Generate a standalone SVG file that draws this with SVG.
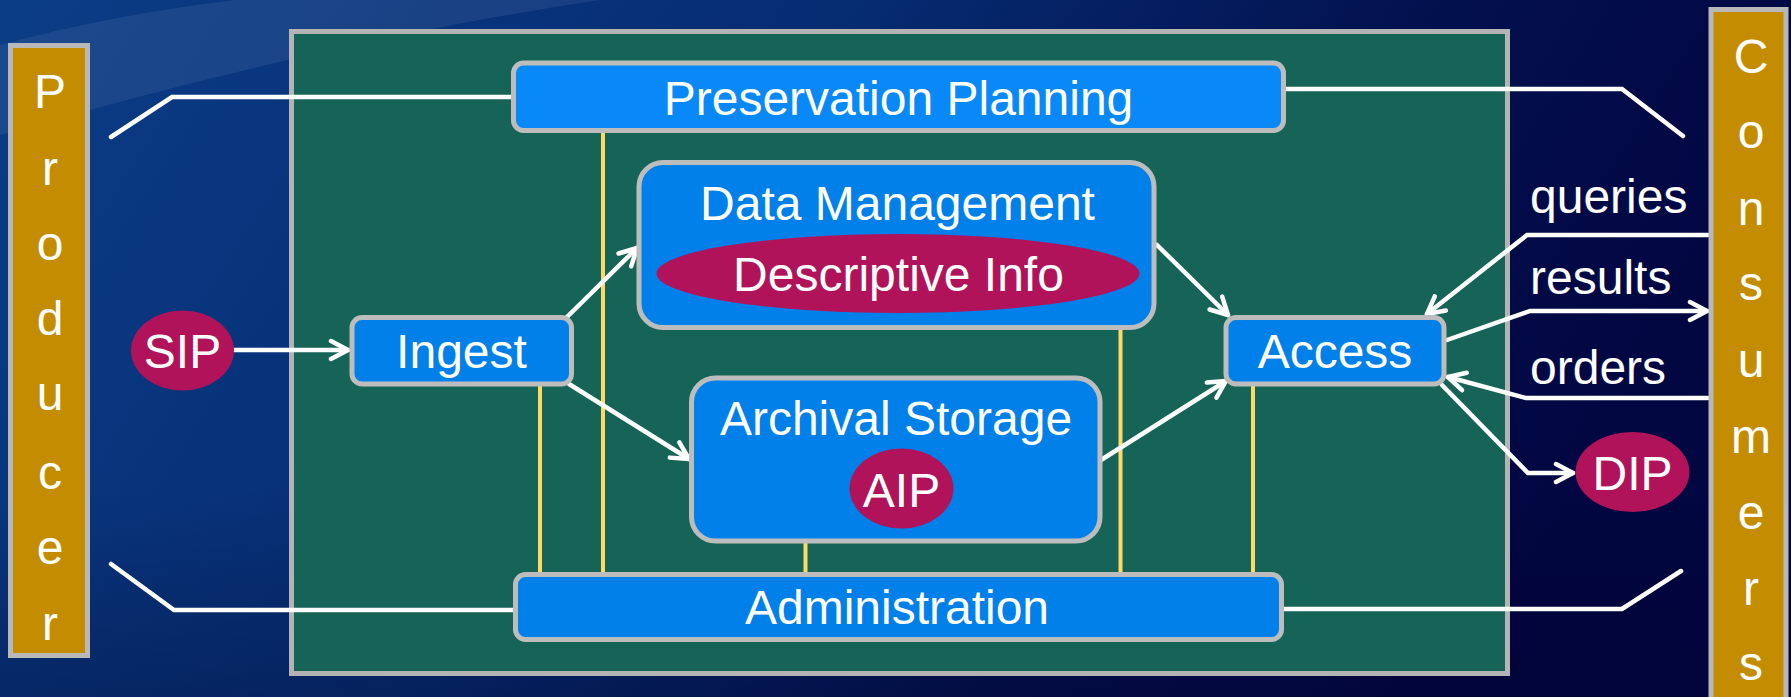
<svg xmlns="http://www.w3.org/2000/svg" width="1791" height="697" viewBox="0 0 1791 697">
  <defs>
    <linearGradient id="bg" x1="0" y1="0" x2="1" y2="0.25">
      <stop offset="0" stop-color="#0B3D86"/>
      <stop offset="0.45" stop-color="#062C72"/>
      <stop offset="0.75" stop-color="#03114F"/>
      <stop offset="1" stop-color="#020641"/>
    </linearGradient>
    <linearGradient id="bgv" x1="0" y1="0" x2="0" y2="1">
      <stop offset="0" stop-color="#000020" stop-opacity="0"/>
      <stop offset="0.7" stop-color="#000020" stop-opacity="0"/>
      <stop offset="1" stop-color="#000020" stop-opacity="0.25"/>
    </linearGradient>
    <marker id="arr" viewBox="0 0 24 24" refX="20" refY="12" markerWidth="24" markerHeight="24" markerUnits="userSpaceOnUse" orient="auto">
      <path d="M3,3 L20,12 L3,21" fill="none" stroke="#FFFFFF" stroke-width="4.5" stroke-linecap="round" stroke-linejoin="round"/>
    </marker>
  </defs>
  <style>
    .lbl { font-family: "Liberation Sans", Arial, sans-serif; font-size: 48px; fill: #FFFFFF; }
    .mid { text-anchor: middle; }
    .side { fill: #C48C00; stroke: #B8B8B8; stroke-width: 5; }
    .box { fill: #0080E8; stroke: #BDBDBD; stroke-width: 5; }
    .pkg { fill: #B0135A; }
    .conn { fill: none; stroke: #FFFFFF; stroke-width: 4.5; stroke-linecap: round; stroke-linejoin: miter; }
    .arrow { marker-end: url(#arr); }
    .ylink { stroke: #FFD966; stroke-width: 4; }
  </style>

  <rect x="0" y="0" width="1791" height="697" fill="url(#bg)"/>
  <rect x="0" y="0" width="1791" height="697" fill="url(#bgv)"/>
  <path d="M0,45 Q110,15 235,0 L600,0 Q330,40 0,135 Z" fill="#FFFFFF" opacity="0.07"/>

  <g id="oais">
    <rect x="291.5" y="31.5" width="1216" height="642" fill="#166457" stroke="#B4B4B4" stroke-width="5"/>
  </g>

  <g id="links">
    <line class="ylink" x1="540" y1="384" x2="540" y2="574"/>
    <line class="ylink" x1="603" y1="130" x2="603" y2="574"/>
    <line class="ylink" x1="805.5" y1="541" x2="805.5" y2="574"/>
    <line class="ylink" x1="1120.5" y1="328" x2="1120.5" y2="574"/>
    <line class="ylink" x1="1253" y1="384" x2="1253" y2="574"/>
  </g>

  <g id="connectors">
    <path class="conn arrow" d="M234,350 L348,350"/>
    <path class="conn arrow" d="M567,317 L637,248"/>
    <path class="conn arrow" d="M569,384 L689,459"/>
    <path class="conn arrow" d="M1157,245 L1228,315"/>
    <path class="conn arrow" d="M1101,460 L1226,381"/>
    <path class="conn arrow" d="M1708,235 L1527,235 L1427,314"/>
    <path class="conn arrow" d="M1447,340 L1530,311 L1707,311"/>
    <path class="conn arrow" d="M1708,398 L1526,398 L1448,377"/>
    <path class="conn arrow" d="M1442,385 L1528,473 L1573,473"/>
    <path class="conn" d="M111,137 L172,97 L514,97"/>
    <path class="conn" d="M1283,89 L1622,89 L1683,136"/>
    <path class="conn" d="M111,564 L174,610 L516,610"/>
    <path class="conn" d="M1283,609 L1622,609 L1681,571"/>
  </g>

  <g id="producer">
    <rect class="side" x="10.5" y="45.5" width="77" height="610"/>
    <text class="lbl mid" x="50" y="108">P</text>
    <text class="lbl mid" x="50" y="185">r</text>
    <text class="lbl mid" x="50" y="260">o</text>
    <text class="lbl mid" x="50" y="335">d</text>
    <text class="lbl mid" x="50" y="410">u</text>
    <text class="lbl mid" x="50" y="489">c</text>
    <text class="lbl mid" x="50" y="564">e</text>
    <text class="lbl mid" x="50" y="640">r</text>
  </g>

  <g id="consumers">
    <rect class="side" x="1711" y="9.5" width="75" height="700"/>
    <text class="lbl mid" x="1751" y="73">C</text>
    <text class="lbl mid" x="1751" y="148">o</text>
    <text class="lbl mid" x="1751" y="225">n</text>
    <text class="lbl mid" x="1751" y="300">s</text>
    <text class="lbl mid" x="1751" y="377">u</text>
    <text class="lbl mid" x="1751" y="453">m</text>
    <text class="lbl mid" x="1751" y="529">e</text>
    <text class="lbl mid" x="1751" y="605">r</text>
    <text class="lbl mid" x="1751" y="680">s</text>
  </g>

  <g id="preservation-planning">
    <rect class="box" x="513.5" y="63" width="770" height="67.5" rx="10" style="fill:#0889F7"/>
    <text class="lbl mid" x="898.5" y="115">Preservation Planning</text>
  </g>

  <g id="data-management">
    <rect class="box" x="639" y="162.5" width="515" height="165" rx="24"/>
    <text class="lbl mid" x="897.5" y="220">Data Management</text>
    <ellipse class="pkg" cx="898" cy="273.5" rx="241.5" ry="39.5"/>
    <text class="lbl mid" x="898.5" y="291">Descriptive Info</text>
  </g>

  <g id="archival-storage">
    <rect class="box" x="691.5" y="378" width="408.5" height="163" rx="24"/>
    <text class="lbl mid" x="896" y="435">Archival Storage</text>
    <ellipse class="pkg" cx="901.5" cy="488.5" rx="52" ry="40"/>
    <text class="lbl mid" x="901.5" y="507">AIP</text>
  </g>

  <g id="ingest">
    <rect class="box" x="352" y="317.5" width="219.5" height="66.5" rx="10"/>
    <text class="lbl mid" x="461.5" y="368">Ingest</text>
  </g>

  <g id="access">
    <rect class="box" x="1226" y="317.5" width="218" height="66.5" rx="10"/>
    <text class="lbl mid" x="1335" y="368">Access</text>
  </g>

  <g id="administration">
    <rect class="box" x="515.5" y="574.5" width="766" height="65" rx="10"/>
    <text class="lbl mid" x="897" y="624">Administration</text>
  </g>

  <g id="sip">
    <ellipse class="pkg" cx="182.5" cy="350.5" rx="51.5" ry="40"/>
    <text class="lbl mid" x="182.5" y="368">SIP</text>
  </g>

  <g id="dip">
    <ellipse class="pkg" cx="1632.5" cy="472" rx="57" ry="40"/>
    <text class="lbl mid" x="1632.5" y="490">DIP</text>
  </g>

  <g id="labels">
    <text class="lbl" x="1530" y="213">queries</text>
    <text class="lbl" x="1530" y="294">results</text>
    <text class="lbl" x="1530" y="384">orders</text>
  </g>
</svg>
